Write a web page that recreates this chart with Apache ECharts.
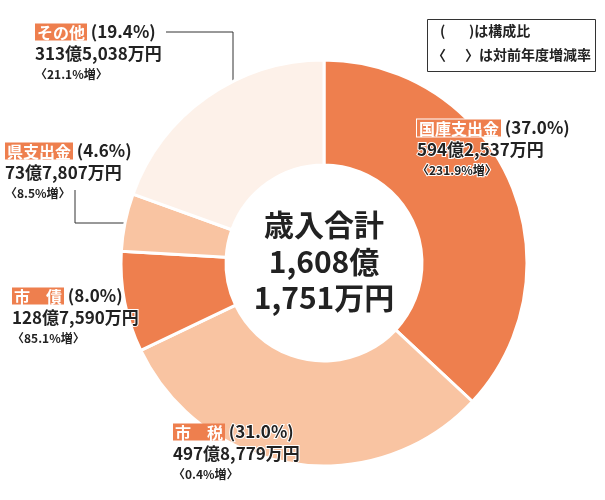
<!DOCTYPE html>
<html><head><meta charset="utf-8">
<script src="https://cdn.jsdelivr.net/npm/echarts@6/dist/echarts.min.js"></script>
<style>html,body{margin:0;padding:0;background:#fff}#c{width:605px;height:500px}</style>
</head><body><div id="c"></div>
<script>
const names = ['国庫支出金', '市　税', '市　債', '県支出金', 'その他'];
const amounts = [5942537, 4978779, 1287590, 737807, 3135038]; // 万円
const pctLabels = ['(37.0%)', '(31.0%)', '(8.0%)', '(4.6%)', '(19.4%)'];
const amountLabels = ['594億2,537万円', '497億8,779万円', '128億7,590万円', '73億7,807万円', '313億5,038万円'];
const changeLabels = ['〈231.9%増〉', '〈0.4%増〉', '〈85.1%増〉', '〈8.5%増〉', '〈21.1%増〉'];
const colors = ['#EE7F4E', '#F9C4A2', '#EE7F4E', '#F9C4A2', '#FDF1E9'];
const totalLines = ['歳入合計', '1,608億', '1,751万円'];

const labelPos = [[417, 118], [173, 422], [12, 286], [5, 141], [35, 22]];
const FONT = '"Noto Sans CJK JP", sans-serif';

const chart = echarts.init(document.getElementById('c'));
chart.setOption({
  animation: false,
  series: [{
    type: 'pie',
    center: [324, 263],
    radius: [98, 203],
    startAngle: 90,
    clockwise: true,
    silent: true,
    itemStyle: { borderColor: '#fff', borderWidth: 3 },
    labelLine: { show: false },
    data: names.map((n, i) => ({
      name: n, value: amounts[i],
      itemStyle: { color: colors[i] },
      label: {
        show: true,
        overflow: 'none',
        align: 'left',
        formatter: '{n|' + n + '}{p| ' + pctLabels[i] + '}\n{v|' + amountLabels[i] + '}\n{c|' + changeLabels[i] + '}',
        fontFamily: FONT,
        textBorderColor: '#fff', textBorderWidth: 2,
        rich: {
          n: { color: '#fff', fontSize: 16, fontWeight: 'bold', fontFamily: FONT, backgroundColor: '#EE7F4E',
               padding: [1, 2, 0, 2], lineHeight: 20, textBorderWidth: 0, align: 'left',
               borderColor: i === 0 ? '#fff' : 'transparent', borderWidth: i === 0 ? 1 : 0 },
          p: { color: '#222', fontSize: 17, fontWeight: 'bold', fontFamily: FONT, lineHeight: 20, align: 'left' },
          v: { color: '#222', fontSize: 17, fontWeight: 'bold', fontFamily: FONT, lineHeight: 23, align: 'left' },
          c: { color: '#222', fontSize: 12, fontWeight: 'bold', fontFamily: FONT, lineHeight: 19, align: 'left' }
        }
      }
    }))
  }],
  graphic: [
    { type: 'polyline', shape: { points: [[166, 32], [233, 32], [233, 109]] }, style: { stroke: '#333', lineWidth: 1, fill: null } },
    { type: 'polyline', shape: { points: [[75, 190], [75, 223], [134, 223]] }, style: { stroke: '#333', lineWidth: 1, fill: null } },
    { type: 'rect', shape: { x: 427.5, y: 19.5, width: 168, height: 52 }, style: { stroke: '#333', lineWidth: 1, fill: '#fff' } },
    { type: 'text', left: 440, top: 24, style: { text: '(', font: 'bold 14px ' + FONT, fill: '#222' } },
    { type: 'text', left: 469, top: 24, style: { text: ')は構成比', font: 'bold 14px ' + FONT, fill: '#222' } },
    { type: 'text', left: 432, top: 48, style: { text: '〈', font: 'bold 14px ' + FONT, fill: '#222' } },
    { type: 'text', left: 465, top: 48, style: { text: '〉は対前年度増減率', font: 'bold 14px ' + FONT, fill: '#222' } },
    { type: 'text', x: 324, y: 225, style: { text: totalLines[0], font: 'bold 30px ' + FONT, fill: '#222', textAlign: 'center', textVerticalAlign: 'middle' } },
    { type: 'text', x: 324, y: 262, style: { text: totalLines[1], font: 'bold 30px ' + FONT, fill: '#222', textAlign: 'center', textVerticalAlign: 'middle' } },
    { type: 'text', x: 324, y: 298, style: { text: totalLines[2], font: 'bold 30px ' + FONT, fill: '#222', textAlign: 'center', textVerticalAlign: 'middle' } }
  ]
});
chart.setOption({
  series: [{
    labelLayout: function (params) {
      const p = labelPos[params.dataIndex];
      return { x: p[0], y: p[1], align: 'left', verticalAlign: 'top' };
    }
  }]
});
</script></body></html>
